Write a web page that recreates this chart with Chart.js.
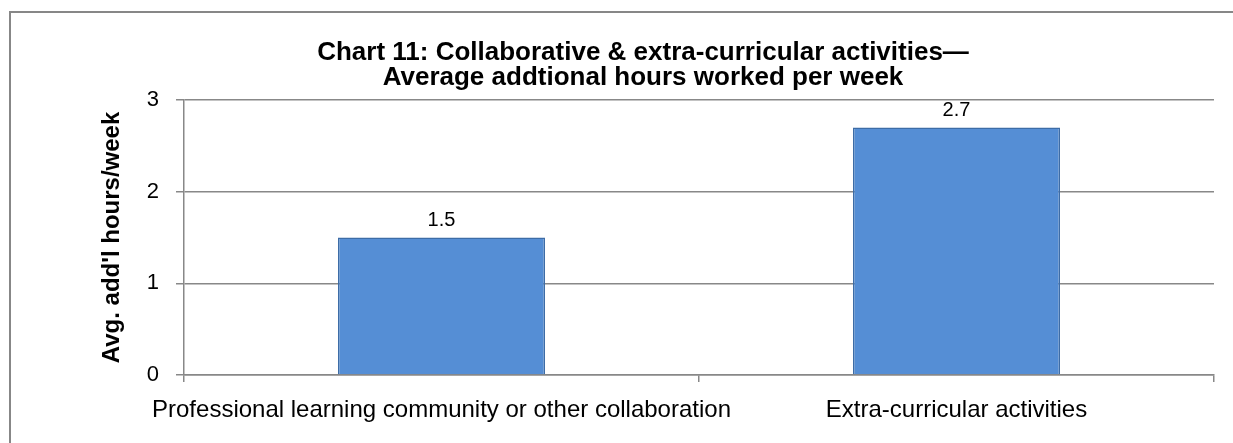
<!DOCTYPE html>
<html>
<head>
<meta charset="utf-8">
<script src="https://cdn.jsdelivr.net/npm/chart.js@4/dist/chart.umd.min.js"></script>
<style>
  html, body { margin: 0; padding: 0; background: #fff; overflow: hidden; }
  #frame { position: absolute; left: 9px; top: 11px; width: 1300px; height: 500px; border: 2px solid #878787; }
  #wrap { position: absolute; left: 0; top: 0; width: 1233px; height: 443px; }
</style>
</head>
<body>
<div id="frame"></div>
<div id="wrap"><canvas id="hoursChart"></canvas></div>
<script>
// chart data
const categories = ['Professional learning community or other collaboration', 'Extra-curricular activities'];
const avgHours = [1.5, 2.7];
const yTickValues = [0, 1, 2, 3];

const GRID = '#888888';

// draws the value above each bar
const barValueLabels = {
    id: 'barValueLabels',
    afterDatasetsDraw(chart) {
        const ctx = chart.ctx;
        const meta = chart.getDatasetMeta(0);
        ctx.save();
        ctx.font = '20px "Liberation Sans", Arial, sans-serif';
        ctx.fillStyle = '#000';
        ctx.textAlign = 'center';
        ctx.textBaseline = 'bottom';
        meta.data.forEach((bar, i) => {
            ctx.fillText(avgHours[i].toFixed(1), bar.x, bar.y - 7);
        });
        ctx.restore();
    }
};

const hoursChart = new Chart(document.getElementById('hoursChart'), {
    type: 'bar',
    data: {
        labels: categories,
        datasets: [{
            data: avgHours,
            backgroundColor: '#558ed5',
            borderColor: '#3d6ca6',
            borderWidth: 1.5,
            borderSkipped: 'bottom',
            categoryPercentage: 1,
            barPercentage: 0.402
        }]
    },
    options: {
        responsive: true,
        maintainAspectRatio: false,
        animation: false,
        layout: {
            padding: { left: 72, right: 19, top: 0, bottom: 0 }
        },
        scales: {
            x: {
                offset: true,
                afterFit: (scale) => { scale.height = 68; },
                grid: {
                    offset: true,
                    drawOnChartArea: false,
                    drawTicks: true,
                    tickLength: 7,
                    color: GRID,
                    lineWidth: 1.5
                },
                border: { color: GRID, width: 1.5 },
                ticks: {
                    color: '#000',
                    padding: 14,
                    maxRotation: 0,
                    autoSkip: false,
                    font: { family: '"Liberation Sans", Arial, sans-serif', size: 24 }
                }
            },
            y: {
                min: 0,
                max: 3,
                afterFit: (scale) => { scale.width = 112; },
                afterBuildTicks: (scale) => { scale.ticks = yTickValues.map(v => ({ value: v })); },
                grid: {
                    color: GRID,
                    lineWidth: 1.5,
                    tickLength: 8
                },
                border: { color: GRID, width: 1.5 },
                ticks: {
                    color: '#000',
                    padding: 17,
                    font: { family: '"Liberation Sans", Arial, sans-serif', size: 22 }
                },
                title: {
                    display: true,
                    text: "Avg. add'l hours/week",
                    color: '#000',
                    padding: { top: 26, bottom: 0 },
                    font: { family: '"Liberation Sans", Arial, sans-serif', size: 24, weight: 'bold' }
                }
            }
        },
        plugins: {
            legend: { display: false },
            tooltip: { enabled: false },
            title: {
                display: true,
                text: ['Chart 11: Collaborative & extra-curricular activities\u2014', 'Average addtional hours worked per week'],
                color: '#000',
                font: { family: '"Liberation Sans", Arial, sans-serif', size: 26, weight: 'bold', lineHeight: 0.96 },
                padding: { top: 40, bottom: 10 }
            }
        }
    },
    plugins: [barValueLabels]
});
</script>
</body>
</html>
